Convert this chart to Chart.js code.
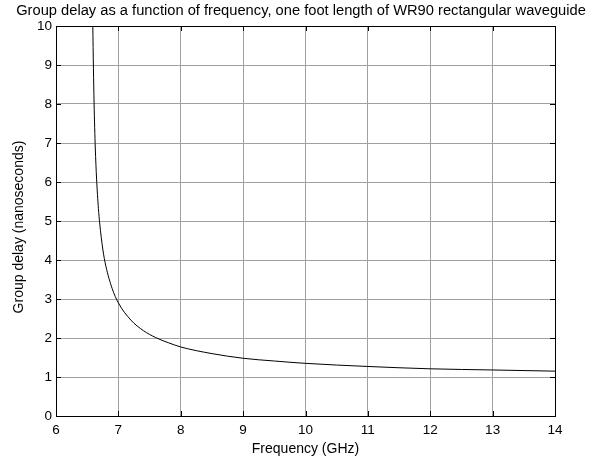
<!DOCTYPE html>
<html>
<head>
<meta charset="utf-8">
<script src="https://cdn.jsdelivr.net/npm/chart.js@4/dist/chart.umd.min.js"></script>
<style>
  html, body { margin: 0; padding: 0; background: #ffffff; }
  #c { display: block; }
</style>
</head>
<body>
<canvas id="c" width="592" height="464"></canvas>
<script>
// Values
const titleText = 'Group delay as a function of frequency, one foot length of WR90 rectangular waveguide';
const xLabel = 'Frequency (GHz)';
const yLabel = 'Group delay (nanoseconds)';
const xTicks = [6, 7, 8, 9, 10, 11, 12, 13, 14];
const yTicks = [0, 1, 2, 3, 4, 5, 6, 7, 8, 9, 10];
const freqGHz = [6.59, 6.60, 6.61, 6.62, 6.63, 6.65, 6.68, 6.70, 6.75, 6.80, 6.90, 7.00, 7.20, 7.40, 7.60, 7.80, 8.00, 8.50, 9.00, 9.50, 10.0, 11.0, 12.0, 13.0, 14.0];
const delayNs = [10.0, 8.92, 8.05, 7.39, 6.87, 6.10, 5.32, 4.95, 4.28, 3.84, 3.27, 2.90, 2.46, 2.19, 2.01, 1.88, 1.77, 1.60, 1.48, 1.41, 1.35, 1.27, 1.21, 1.18, 1.15];

const FONT = 'Liberation Sans, Arial, Helvetica, sans-serif';

const points = freqGHz.map((f, i) => ({ x: f, y: delayNs[i] }));

// Box, inward tick marks (MATLAB style), title and y-axis label
const boxTicks = {
  id: 'boxTicks',
  afterDraw(chart) {
    const { ctx, chartArea: a, scales } = chart;
    const L = 5;
    ctx.save();
    ctx.strokeStyle = '#000';
    ctx.lineWidth = 1;
    ctx.beginPath();
    scales.x.ticks.forEach(t => {
      const px = Math.round(scales.x.getPixelForValue(t.value)) + 0.5;
      ctx.moveTo(px, a.bottom); ctx.lineTo(px, a.bottom - L);
      ctx.moveTo(px, a.top); ctx.lineTo(px, a.top + L);
    });
    scales.y.ticks.forEach(t => {
      const py = Math.round(scales.y.getPixelForValue(t.value)) + 0.5;
      ctx.moveTo(a.left, py); ctx.lineTo(a.left + L, py);
      ctx.moveTo(a.right, py); ctx.lineTo(a.right - L, py);
    });
    ctx.stroke();
    ctx.strokeRect(Math.round(a.left) + 0.5, Math.round(a.top) + 0.5,
                   Math.round(a.right - a.left), Math.round(a.bottom - a.top));

    // title
    ctx.fillStyle = '#000';
    ctx.font = '14.7px ' + FONT;
    ctx.textAlign = 'center';
    ctx.textBaseline = 'alphabetic';
    ctx.fillText(titleText, 301, 15);

    // y label
    ctx.font = '14px ' + FONT;
    ctx.translate(23, (a.top + a.bottom) / 2 + 6);
    ctx.rotate(-Math.PI / 2);
    ctx.textAlign = 'center';
    ctx.textBaseline = 'alphabetic';
    ctx.fillText(yLabel, 0, 0);
    ctx.restore();
  }
};

new Chart(document.getElementById('c'), {
  type: 'line',
  data: {
    datasets: [{
      data: points,
      borderColor: '#000000',
      borderWidth: 1,
      pointRadius: 0,
      fill: false,
      cubicInterpolationMode: 'monotone'
    }]
  },
  options: {
    responsive: false,
    animation: false,
    layout: { padding: { left: 0, right: 37, top: 26, bottom: 0 } },
    plugins: {
      legend: { display: false },
      tooltip: { enabled: false },
      title: { display: false }
    },
    scales: {
      x: {
        type: 'linear',
        min: 6, max: 14,
        afterBuildTicks: s => { s.ticks = xTicks.map(v => ({ value: v })); },
        ticks: { color: '#000', font: { family: FONT, size: 13.5 }, padding: 6, maxRotation: 0 },
        grid: { color: '#a0a0a0', drawTicks: false },
        border: { color: '#000' },
        title: { display: true, text: xLabel, color: '#000', font: { family: FONT, size: 14 }, padding: { top: 0, bottom: 6 } },
        afterFit: s => { s.height = 48; }
      },
      y: {
        type: 'linear',
        min: 0, max: 10,
        afterBuildTicks: s => { s.ticks = yTicks.map(v => ({ value: v })); },
        ticks: { color: '#000', font: { family: FONT, size: 13.5 }, padding: 4 },
        grid: { color: '#a0a0a0', drawTicks: false },
        border: { color: '#000' },
        title: { display: false },
        afterFit: s => { s.width = 56; }
      }
    }
  },
  plugins: [boxTicks]
});
</script>
</body>
</html>
